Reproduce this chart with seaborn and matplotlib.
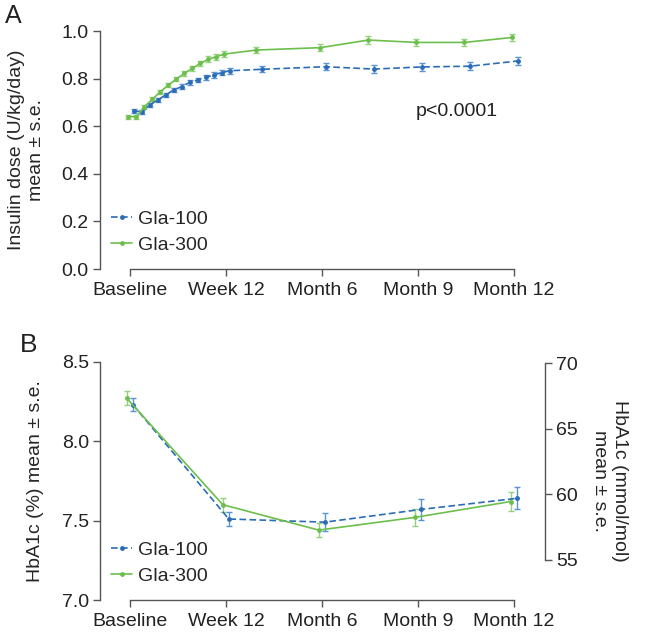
import pandas as pd
import matplotlib.pyplot as plt
import seaborn as sns

# panel A: insulin dose (U/kg/day), x in weeks
dose_weeks = [0, 1, 2, 3, 4, 5, 6, 7, 8, 9, 10, 11, 12, 16, 24, 30, 36, 42, 48]
dose_gla100 = [0.664, 0.661, 0.689, 0.710, 0.731, 0.752, 0.766, 0.784, 0.794, 0.805,
               0.815, 0.825, 0.833, 0.839, 0.850, 0.840, 0.849, 0.852, 0.874]
dose_gla300 = [0.640, 0.640, 0.682, 0.713, 0.745, 0.773, 0.798, 0.822, 0.843, 0.864,
               0.881, 0.892, 0.903, 0.920, 0.930, 0.962, 0.952, 0.952, 0.973]
dose_se100 = [0.008, 0.008, 0.008, 0.009, 0.009, 0.009, 0.010, 0.010, 0.010, 0.011,
              0.011, 0.011, 0.012, 0.013, 0.014, 0.017, 0.015, 0.016, 0.016]
dose_se300 = [0.008, 0.008, 0.008, 0.009, 0.009, 0.010, 0.010, 0.010, 0.011, 0.011,
              0.012, 0.012, 0.013, 0.013, 0.015, 0.018, 0.016, 0.016, 0.016]

# panel B: HbA1c (%)
hba1c_weeks = [0, 12, 24, 36, 48]
hba1c_gla100 = [8.23, 7.51, 7.49, 7.57, 7.64]
hba1c_gla300 = [8.27, 7.60, 7.44, 7.52, 7.62]
hba1c_se100 = [0.040, 0.042, 0.058, 0.066, 0.070]
hba1c_se300 = [0.045, 0.044, 0.045, 0.055, 0.060]

tick_labels = ["Baseline", "Week 12", "Month 6", "Month 9", "Month 12"]
groups = ["Gla-100", "Gla-300"]

sns.set_style("ticks")
plt.rcParams['font.family'] = ['Liberation Sans', 'DejaVu Sans']
plt.rcParams['font.size'] = 14

colors = {"Gla-100": "#2b6cb8", "Gla-300": "#6cbf4c"}
err_colors = {"Gla-100": "#5b93d3", "Gla-300": "#95d27d"}
dashes = {"Gla-100": (4, 2), "Gla-300": ""}
markers = {"Gla-100": "o", "Gla-300": "o"}
axis_grey = "#555555"
FS = 14


def long_table(weeks, v100, v300, se100, se300, shift):
    rows = []
    for g, vals, ses in [("Gla-100", v100, se100), ("Gla-300", v300, se300)]:
        for w, v, s in zip(weeks, vals, ses):
            rows.append({"week": w + shift[g], "value": v, "se": s, "group": g})
    return pd.DataFrame(rows)


def draw_panel(ax, df):
    for g in groups:
        sub = df[df.group == g]
        ax.errorbar(sub.week, sub.value, yerr=sub.se, fmt="none",
                    ecolor=err_colors[g], elinewidth=1, capsize=2, capthick=1, zorder=1)
    sns.lineplot(data=df, x="week", y="value", hue="group", style="group",
                 palette=colors, dashes=dashes, markers=markers, markersize=3.5,
                 markeredgewidth=0, linewidth=1.2, ax=ax, zorder=2)
    handles, labels = ax.get_legend_handles_labels()
    ax.legend(handles, labels, loc="lower left", bbox_to_anchor=(0.025, 0.065),
              frameon=False, borderpad=0, borderaxespad=0, handlelength=1.1,
              handletextpad=0.3, labelspacing=0.4, fontsize=FS)
    ax.set_xlim(-3.75, 51.875)
    ax.set_xticks([0, 12, 24, 36, 48])
    ax.set_xticklabels(tick_labels)
    ax.set_xlabel("")
    ax.spines["top"].set_visible(False)
    ax.spines["right"].set_visible(False)
    ax.spines["bottom"].set_bounds(0, 48)
    for s in ["left", "bottom", "right"]:
        ax.spines[s].set_color(axis_grey)
        ax.spines[s].set_linewidth(1)
    ax.tick_params(axis="both", length=5, width=1, color=axis_grey,
                   labelcolor="#222222", labelsize=FS, pad=3)
    ax.tick_params(axis="x", pad=4)


fig = plt.figure(figsize=(6.45, 6.34), dpi=100)

# panel A
axA = fig.add_axes([0.155, 0.5757, 0.690, 0.3754])
dfA = long_table(dose_weeks, dose_gla100, dose_gla300, dose_se100, dose_se300,
                 {"Gla-100": 0.45, "Gla-300": -0.2})
draw_panel(axA, dfA)
axA.set_ylim(0, 1.0)
axA.set_yticks([0.0, 0.2, 0.4, 0.6, 0.8, 1.0])
axA.set_yticklabels(["0.0", "0.2", "0.4", "0.6", "0.8", "1.0"])
axA.set_ylabel("Insulin dose (U/kg/day)\nmean ± s.e.", fontsize=FS, labelpad=12)
axA.text(40.9, 0.66, "p<0.0001", ha="center", va="center", fontsize=FS, color="#222222")

# panel B
axB = fig.add_axes([0.155, 0.0536, 0.690, 0.3759])
dfB = long_table(hba1c_weeks, hba1c_gla100, hba1c_gla300, hba1c_se100, hba1c_se300,
                 {"Gla-100": 0.35, "Gla-300": -0.4})
draw_panel(axB, dfB)
axB.set_ylim(7.0, 8.5)
axB.set_yticks([7.0, 7.5, 8.0, 8.5])
axB.set_yticklabels(["7.0", "7.5", "8.0", "8.5"])
axB.set_ylabel("HbA1c (%) mean ± s.e.", fontsize=FS, labelpad=13)

axR = axB.twinx()
axR.set_ylim(51.95, 70.1)
axR.set_yticks([55, 60, 65, 70])
axR.spines["top"].set_visible(False)
axR.spines["left"].set_visible(False)
axR.spines["bottom"].set_visible(False)
axR.spines["right"].set_bounds(55, 70)
axR.spines["right"].set_color(axis_grey)
axR.spines["right"].set_linewidth(1)
axR.tick_params(axis="y", length=5, width=1, color=axis_grey,
                labelcolor="#222222", labelsize=FS, pad=3)
axR.set_ylabel("HbA1c (mmol/mol)\nmean ± s.e.", fontsize=FS, rotation=270,
               labelpad=36)

fig.text(5 / 645, (634 - 23) / 634, "A", fontsize=18, va="baseline", color="#222222")
fig.text(20 / 645, (634 - 352) / 634, "B", fontsize=19, va="baseline", color="#222222")

fig.savefig("out.png", dpi=100)
